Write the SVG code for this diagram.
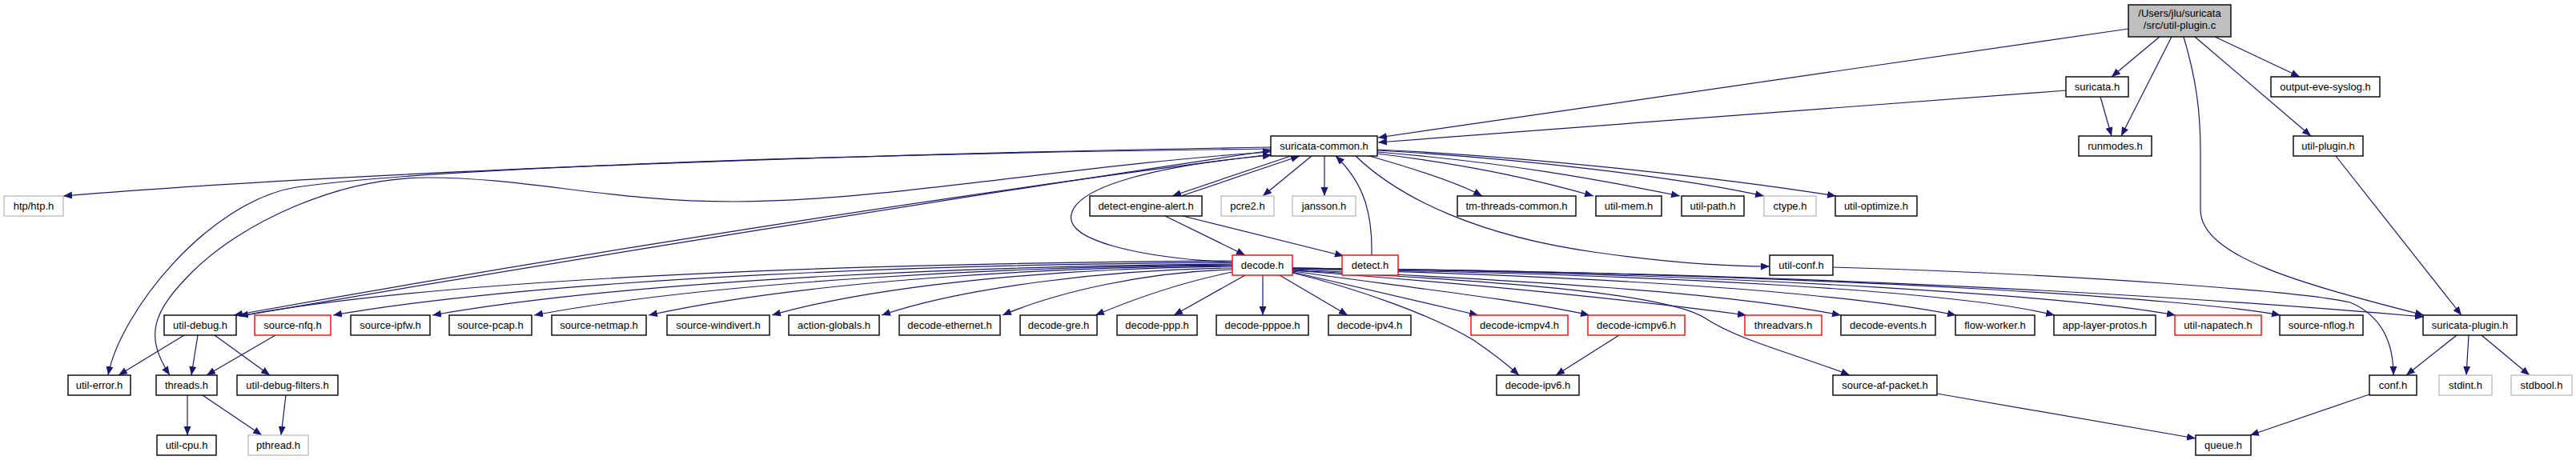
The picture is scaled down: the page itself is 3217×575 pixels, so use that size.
<svg xmlns="http://www.w3.org/2000/svg" width="3217" height="575" viewBox="0 0 3217 575">
<style>
.n rect{fill:#fff;stroke:#000;stroke-width:1.4}
.n.ext rect{stroke:#bfbfbf}
.n.tr rect{stroke:#ff0000}
.n.root rect{fill:#bfbfbf}
text{font-family:"Liberation Sans",Arial,Helvetica,sans-serif;font-size:13px;text-anchor:middle;fill:#000}
.e path{fill:none;stroke:#191970;stroke-width:1.2;marker-end:url(#arr)}
</style>
<defs>
<marker id="arr" markerUnits="userSpaceOnUse" markerWidth="12" markerHeight="10" refX="11" refY="4.5" orient="auto">
<path d="M0,0 L11,4.5 L0,9 z" fill="#191970"/>
</marker>
</defs>
<rect width="3217" height="575" fill="#fff"/>
<g id="edges" class="e">
<path d="M2658,36 L1721,172"/>
<path d="M2580,113 L1721,178"/>
<path d="M2697,46 L2637,96"/>
<path d="M2712,46 L2649,170"/>
<path d="M2623,121 L2637,170"/>
<path d="M2766,46 L2872,96"/>
<path d="M2741,46 L2886,170"/>
<path d="M2727,46 C2743,100 2748,140 2748,190 L2748,262 C2748,322 2880,356 3027,394"/>
<path d="M2917,195 L3074,394"/>
<path d="M3068,419 L3005,469"/>
<path d="M3083,419 L3080,469"/>
<path d="M3099,419 L3159,469"/>
<path d="M2959,493 L2810,544"/>
<path d="M2419,492 L2742,548"/>
<path d="M2289,334 C2600,343 2880,365 2935,378 C2982,398 2989,440 2989,469"/>
<path d="M1587,184 C1200,190 500,210 79,245"/>
<path d="M1587,186 C1000,193 520,212 370,234 C260,252 150,390 135,469"/>
<path d="M1587,190 C1350,205 1100,252 918,252 C760,252 660,222 534,222 C420,222 300,280 240,340 C190,390 180,420 212,469"/>
<path d="M1587,193 C1200,241 700,321 292,394"/>
<path d="M301,395 C700,326 1200,246 1588,188"/>
<path d="M1539,328 C1420,322 1330,300 1338,268 C1345,232 1450,206 1588,194"/>
<path d="M1612,195 L1464,245"/>
<path d="M1475,245 L1623,195"/>
<path d="M1638,195 L1577,245"/>
<path d="M1654,195 L1654,245"/>
<path d="M1713,319 C1714,270 1705,230 1668,195"/>
<path d="M1710,195 C1770,212 1820,228 1851,245"/>
<path d="M1720,192 C1850,208 1930,228 1990,245"/>
<path d="M1720,190 C1880,203 2000,225 2098,245"/>
<path d="M1720,188 C1900,198 2100,222 2203,245"/>
<path d="M1720,187 C1900,195 2150,222 2293,245"/>
<path d="M1693,195 C1750,250 1850,295 1990,315 C2080,328 2150,333 2210,333"/>
<path d="M1455,270 L1555,319"/>
<path d="M1477,270 C1560,290 1620,305 1678,320"/>
<path d="M1539,326 C1200,328 600,340 299,395"/>
<path d="M1539,328 C1200,330 700,345 416,394"/>
<path d="M1539,330 C1250,332 800,348 540,394"/>
<path d="M1539,331 C1280,333 900,350 667,394"/>
<path d="M1539,332 C1300,334 1000,352 810,394"/>
<path d="M1539,333 C1330,335 1100,355 964,394"/>
<path d="M1539,335 C1380,337 1200,360 1101,394"/>
<path d="M1539,337 C1430,340 1320,365 1252,394"/>
<path d="M1539,340 C1480,352 1420,372 1368,394"/>
<path d="M1555,344 L1466,394"/>
<path d="M1577,344 L1577,394"/>
<path d="M1598,344 L1683,394"/>
<path d="M1614,341 C1700,362 1790,395 1840,425 C1865,442 1885,458 1897,469"/>
<path d="M1614,340 C1700,360 1780,378 1846,394"/>
<path d="M1614,339 C1750,358 1900,375 1985,394"/>
<path d="M1614,338 C1800,352 2000,370 2181,394"/>
<path d="M1614,337 C1900,350 2150,365 2299,394"/>
<path d="M1614,336 C2000,345 2300,365 2443,394"/>
<path d="M1614,336 C2100,343 2450,365 2566,394"/>
<path d="M1614,335 C2200,342 2600,372 2717,394"/>
<path d="M1614,335 C2300,342 2750,375 2848,394"/>
<path d="M1614,335 C2400,342 2900,385 3027,396"/>
<path d="M1614,338 C1850,350 2080,365 2130,398 C2170,425 2250,445 2310,469"/>
<path d="M230,419 L148,469"/>
<path d="M247,419 L239,469"/>
<path d="M268,419 L337,469"/>
<path d="M344,419 L258,469"/>
<path d="M234,494 L234,544"/>
<path d="M253,494 L327,544"/>
<path d="M357,494 L351,544"/>
<path d="M2022,419 L1943,469"/>
</g>
<g id="n-util-plugin-c" class="n root"><rect x="2658" y="6" width="128" height="40"/><text x="2722" y="21">/Users/jlu/suricata</text><text x="2722" y="36">/src/util-plugin.c</text></g>
<g id="n-suricata-h" class="n"><rect x="2580" y="96" width="78" height="25"/><text x="2619" y="113">suricata.h</text></g>
<g id="n-output-eve-syslog-h" class="n"><rect x="2836" y="96" width="136" height="25"/><text x="2904" y="113">output-eve-syslog.h</text></g>
<g id="n-suricata-common-h" class="n"><rect x="1587" y="170" width="133" height="25"/><text x="1653.5" y="187">suricata-common.h</text></g>
<g id="n-runmodes-h" class="n"><rect x="2596" y="170" width="91" height="25"/><text x="2641.5" y="187">runmodes.h</text></g>
<g id="n-util-plugin-h" class="n"><rect x="2864" y="170" width="87" height="25"/><text x="2907.5" y="187">util-plugin.h</text></g>
<g id="n-htp-h" class="n ext"><rect x="5" y="245" width="74" height="25"/><text x="42" y="262">htp/htp.h</text></g>
<g id="n-detect-engine-alert-h" class="n"><rect x="1361" y="245" width="140" height="25"/><text x="1431" y="262">detect-engine-alert.h</text></g>
<g id="n-pcre2-h" class="n ext"><rect x="1525" y="245" width="66" height="25"/><text x="1558" y="262">pcre2.h</text></g>
<g id="n-jansson-h" class="n ext"><rect x="1614" y="245" width="79" height="25"/><text x="1653.5" y="262">jansson.h</text></g>
<g id="n-tm-threads-common-h" class="n"><rect x="1820" y="245" width="148" height="25"/><text x="1894" y="262">tm-threads-common.h</text></g>
<g id="n-util-mem-h" class="n"><rect x="1993" y="245" width="82" height="25"/><text x="2034" y="262">util-mem.h</text></g>
<g id="n-util-path-h" class="n"><rect x="2100" y="245" width="78" height="25"/><text x="2139" y="262">util-path.h</text></g>
<g id="n-ctype-h" class="n ext"><rect x="2203" y="245" width="65" height="25"/><text x="2235.5" y="262">ctype.h</text></g>
<g id="n-util-optimize-h" class="n"><rect x="2292" y="245" width="102" height="25"/><text x="2343" y="262">util-optimize.h</text></g>
<g id="n-decode-h" class="n tr"><rect x="1539" y="319" width="75" height="25"/><text x="1576.5" y="336">decode.h</text></g>
<g id="n-detect-h" class="n tr"><rect x="1676" y="319" width="70" height="25"/><text x="1711" y="336">detect.h</text></g>
<g id="n-util-conf-h" class="n"><rect x="2210" y="319" width="79" height="25"/><text x="2249.5" y="336">util-conf.h</text></g>
<g id="n-util-debug-h" class="n"><rect x="205" y="394" width="90" height="25"/><text x="250" y="411">util-debug.h</text></g>
<g id="n-source-nfq-h" class="n tr"><rect x="318" y="394" width="95" height="25"/><text x="365.5" y="411">source-nfq.h</text></g>
<g id="n-source-ipfw-h" class="n"><rect x="438" y="394" width="99" height="25"/><text x="487.5" y="411">source-ipfw.h</text></g>
<g id="n-source-pcap-h" class="n"><rect x="561" y="394" width="103" height="25"/><text x="612.5" y="411">source-pcap.h</text></g>
<g id="n-source-netmap-h" class="n"><rect x="689" y="394" width="118" height="25"/><text x="748" y="411">source-netmap.h</text></g>
<g id="n-source-windivert-h" class="n"><rect x="833" y="394" width="128" height="25"/><text x="897" y="411">source-windivert.h</text></g>
<g id="n-action-globals-h" class="n"><rect x="985" y="394" width="113" height="25"/><text x="1041.5" y="411">action-globals.h</text></g>
<g id="n-decode-ethernet-h" class="n"><rect x="1123" y="394" width="126" height="25"/><text x="1186" y="411">decode-ethernet.h</text></g>
<g id="n-decode-gre-h" class="n"><rect x="1274" y="394" width="96" height="25"/><text x="1322" y="411">decode-gre.h</text></g>
<g id="n-decode-ppp-h" class="n"><rect x="1395" y="394" width="100" height="25"/><text x="1445" y="411">decode-ppp.h</text></g>
<g id="n-decode-pppoe-h" class="n"><rect x="1519" y="394" width="115" height="25"/><text x="1576.5" y="411">decode-pppoe.h</text></g>
<g id="n-decode-ipv4-h" class="n"><rect x="1659" y="394" width="103" height="25"/><text x="1710.5" y="411">decode-ipv4.h</text></g>
<g id="n-decode-icmpv4-h" class="n tr"><rect x="1837" y="394" width="121" height="25"/><text x="1897.5" y="411">decode-icmpv4.h</text></g>
<g id="n-decode-icmpv6-h" class="n tr"><rect x="1983" y="394" width="121" height="25"/><text x="2043.5" y="411">decode-icmpv6.h</text></g>
<g id="n-threadvars-h" class="n tr"><rect x="2179" y="394" width="96" height="25"/><text x="2227" y="411">threadvars.h</text></g>
<g id="n-decode-events-h" class="n"><rect x="2299" y="394" width="118" height="25"/><text x="2358" y="411">decode-events.h</text></g>
<g id="n-flow-worker-h" class="n"><rect x="2442" y="394" width="99" height="25"/><text x="2491.5" y="411">flow-worker.h</text></g>
<g id="n-app-layer-protos-h" class="n"><rect x="2565" y="394" width="127" height="25"/><text x="2628.5" y="411">app-layer-protos.h</text></g>
<g id="n-util-napatech-h" class="n tr"><rect x="2716" y="394" width="108" height="25"/><text x="2770" y="411">util-napatech.h</text></g>
<g id="n-source-nflog-h" class="n"><rect x="2847" y="394" width="104" height="25"/><text x="2899" y="411">source-nflog.h</text></g>
<g id="n-suricata-plugin-h" class="n"><rect x="3026" y="394" width="117" height="25"/><text x="3084.5" y="411">suricata-plugin.h</text></g>
<g id="n-util-error-h" class="n"><rect x="85" y="469" width="78" height="25"/><text x="124" y="486">util-error.h</text></g>
<g id="n-threads-h" class="n"><rect x="195" y="469" width="76" height="25"/><text x="233" y="486">threads.h</text></g>
<g id="n-util-debug-filters-h" class="n"><rect x="296" y="469" width="126" height="25"/><text x="359" y="486">util-debug-filters.h</text></g>
<g id="n-decode-ipv6-h" class="n"><rect x="1869" y="469" width="103" height="25"/><text x="1920.5" y="486">decode-ipv6.h</text></g>
<g id="n-source-af-packet-h" class="n"><rect x="2289" y="469" width="130" height="25"/><text x="2354" y="486">source-af-packet.h</text></g>
<g id="n-conf-h" class="n"><rect x="2959" y="469" width="59" height="25"/><text x="2988.5" y="486">conf.h</text></g>
<g id="n-stdint-h" class="n ext"><rect x="3046" y="469" width="66" height="25"/><text x="3079" y="486">stdint.h</text></g>
<g id="n-stdbool-h" class="n ext"><rect x="3136" y="469" width="76" height="25"/><text x="3174" y="486">stdbool.h</text></g>
<g id="n-util-cpu-h" class="n"><rect x="196" y="544" width="74" height="25"/><text x="233" y="561">util-cpu.h</text></g>
<g id="n-pthread-h" class="n ext"><rect x="310" y="544" width="75" height="25"/><text x="347.5" y="561">pthread.h</text></g>
<g id="n-queue-h" class="n"><rect x="2742" y="544" width="69" height="25"/><text x="2776.5" y="561">queue.h</text></g>
</svg>
